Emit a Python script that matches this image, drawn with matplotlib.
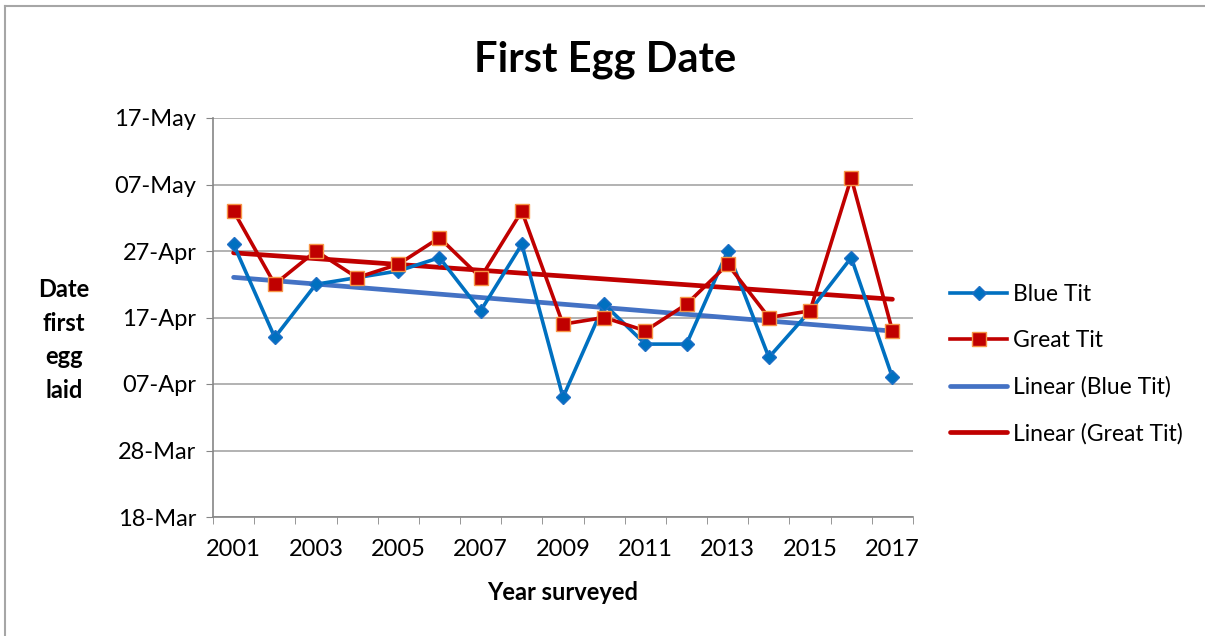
import numpy as np
import pandas as pd
import matplotlib
matplotlib.use("Agg")
import matplotlib.pyplot as plt
import matplotlib.dates as mdates
from matplotlib.lines import Line2D
from matplotlib.ticker import FixedLocator

plt.rcParams['font.family'] = ['Lato', 'DejaVu Sans']

# data
years = list(range(2001, 2018))
blue_tit = ["28-Apr", "14-Apr", "22-Apr", "23-Apr", "24-Apr", "26-Apr", "18-Apr", "28-Apr", "05-Apr",
            "19-Apr", "13-Apr", "13-Apr", "27-Apr", "11-Apr", "18-Apr", "26-Apr", "08-Apr"]
great_tit = ["03-May", "22-Apr", "27-Apr", "23-Apr", "25-Apr", "29-Apr", "23-Apr", "03-May", "16-Apr",
             "17-Apr", "15-Apr", "19-Apr", "25-Apr", "17-Apr", "18-Apr", "08-May", "15-Apr"]
y_ticks = ["18-Mar", "28-Mar", "07-Apr", "17-Apr", "27-Apr", "07-May", "17-May"]


def to_num(vals):
    d = pd.to_datetime([v + "-2017" for v in vals], format="%d-%b-%Y")
    return mdates.date2num(d)


x = np.arange(len(years))
yb = to_num(blue_tit)
yg = to_num(great_tit)
yt = to_num(y_ticks)

W, H = 1205, 636
fig = plt.figure(figsize=(W / 100, H / 100), dpi=100)
ax = fig.add_axes([213 / W, 1 - 517 / H, 700 / W, 399 / H])

# series
ax.plot(x, yb, color="#0070C0", lw=2.6, marker="D", ms=7.5, mfc="#0070C0", mec="#1F6FC5",
        label="Blue Tit", zorder=4)
ax.plot(x, yg, color="#C00000", lw=2.6, marker="s", ms=10, mfc="#C00000", mec="#F79646",
        mew=1, label="Great Tit", zorder=5)

# linear trendlines
pb = np.polyfit(x, yb, 1)
pg = np.polyfit(x, yg, 1)
ax.plot(x[[0, -1]], np.polyval(pb, x[[0, -1]]), color="#4472C4", lw=3.4, solid_capstyle="round",
        label="Linear (Blue Tit)", zorder=3)
ax.plot(x[[0, -1]], np.polyval(pg, x[[0, -1]]), color="#C00000", lw=3.4, solid_capstyle="round",
        label="Linear (Great Tit)", zorder=3)

ax.set_xlim(-0.5, len(years) - 0.5)
ax.set_ylim(yt[0], yt[-1])

ax.set_yticks(yt)
ax.set_yticklabels(y_ticks)
ax.yaxis.grid(True, color="#A6A6A6", lw=1.2)
ax.set_axisbelow(True)

ax.set_xticks(x[::2])
ax.set_xticklabels([str(y) for y in years[::2]])
ax.xaxis.set_minor_locator(FixedLocator(np.arange(-0.5, len(years), 1)))

ax.tick_params(axis="y", length=5, color="#868686", pad=7, labelsize=17)
ax.tick_params(axis="x", which="major", length=0, pad=16, labelsize=17)
ax.tick_params(axis="x", which="minor", length=5, color="#868686")

for s in ["top", "right"]:
    ax.spines[s].set_visible(False)
for s in ["left", "bottom"]:
    ax.spines[s].set_color("#868686")
    ax.spines[s].set_linewidth(1.2)

fig.text(605 / W, 1 - 60 / H, "First Egg Date", ha="center", va="center",
         fontsize=30, fontweight="bold")
fig.text(64 / W, 1 - 340 / H, "Date\nfirst\negg\nlaid", ha="center", va="center",
         fontsize=17, fontweight="bold", linespacing=1.55)
fig.text(563 / W, 1 - 592 / H, "Year surveyed", ha="center", va="center",
         fontsize=17, fontweight="bold")

ax.legend(loc="center left", bbox_to_anchor=(950 / W, 1 - 364 / H),
          bbox_transform=fig.transFigure, frameon=False, fontsize=16.5,
          borderpad=0, borderaxespad=0, labelspacing=1.1, handlelength=2.5,
          handletextpad=0.25)

# chart area border
bx, by = 5 / W, 1 - 6 / H
fig.add_artist(Line2D([bx, bx], [0, by], transform=fig.transFigure, color="#A6A6A6", lw=1.5))
fig.add_artist(Line2D([bx, 1], [by, by], transform=fig.transFigure, color="#A6A6A6", lw=1.5))

fig.savefig("out.png", dpi=100)
